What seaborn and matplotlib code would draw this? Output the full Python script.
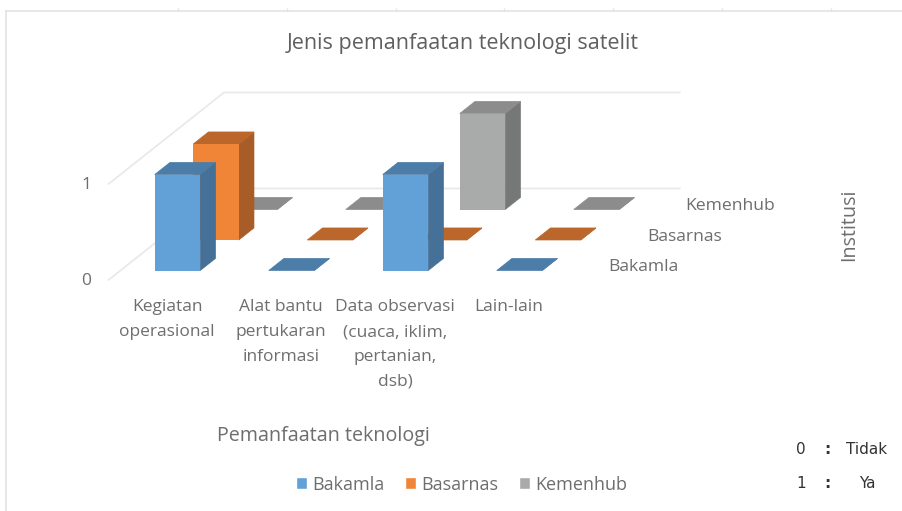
import numpy as np
import pandas as pd
import matplotlib
matplotlib.use("Agg")
import matplotlib.pyplot as plt
import seaborn as sns

# data
categories = ["Kegiatan operasional", "Alat bantu pertukaran informasi",
              "Data observasi (cuaca, iklim, pertanian, dsb)", "Lain-lain"]
cat_labels = ["Kegiatan\noperasional", "Alat bantu\npertukaran\ninformasi",
              "Data observasi\n(cuaca, iklim,\npertanian,\ndsb)", "Lain-lain"]
institusi = ["Bakamla", "Basarnas", "Kemenhub"]
bakamla = [1, 0, 1, 0]
basarnas = [1, 0, 0, 0]
kemenhub = [0, 0, 1, 0]
y_ticks = [0, 1]
colors = ["#62A0D8", "#F08437", "#A9ABAA"]

W, H = 902, 511
TXT = "#6e6e6e"

# pixel layout of the oblique box
CAT_PX = 114.0   # one category
VAL_PX = 96.0    # one value unit
X0_PX = 177.5    # centre of first category, front series
Y0_PX = 270.5    # value 0, front series
DX = 38.5 / CAT_PX   # shift per series, in category units
DY = 30.5 / VAL_PX   # shift per series, in value units
BAR_W = 45.5 / CAT_PX
BAR_D = 0.395    # bar depth as part of one series step


def project(x, y, z):
    return x + z * DX, y + z * DY


def px(x, y):
    return x / W, 1 - y / H


sns.set_theme(style="white")
plt.rcParams["font.family"] = ["Open Sans", "DejaVu Sans"]

df = pd.DataFrame({
    "Pemanfaatan": categories * 3,
    "Institusi": np.repeat(institusi, 4),
    "Nilai": bakamla + basarnas + kemenhub,
})

fig = plt.figure(figsize=(W / 100, H / 100), dpi=100, facecolor="white")

# chart frame with the small handle ticks
frame = fig.add_axes([6 / W, 0, 1 - 6 / W, 1 - 11 / H], facecolor="none")
frame.set_xlim(6, W)
frame.set_ylim(H, 11)
for side in ["right", "bottom"]:
    frame.spines[side].set_visible(False)
for side in ["left", "top"]:
    frame.spines[side].set_color("#e3e3e3")
    frame.spines[side].set_linewidth(1.2)
frame.xaxis.tick_top()
frame.set_xticks([178, 287, 396, 504, 613, 722, 831])
frame.set_yticks([47, 83, 139, 224, 259, 294, 330, 365, 400, 435, 470, 506])
frame.tick_params(length=2, width=1, color="#e3e3e3", labelleft=False, labeltop=False)

ax = fig.add_axes([0, 0, 1, 1], facecolor="none")
palette = dict(zip(institusi, colors))
sns.barplot(data=df, x="Pemanfaatan", y="Nilai", hue="Institusi", order=categories,
            hue_order=institusi, palette=palette, dodge=False, width=BAR_W,
            saturation=1, errorbar=None, ax=ax)

ax.set_xlim(-X0_PX / CAT_PX, (W - X0_PX) / CAT_PX)
ax.set_ylim(-(H - Y0_PX) / VAL_PX, Y0_PX / VAL_PX)

# walls and floor
z_front, z_back = -0.31, 2.69
x_left, x_right = -0.5, 3.5
for v in y_ticks:
    xs, ys = zip(project(x_left, v, z_front), project(x_left, v, z_back), project(x_right, v, z_back))
    ax.plot(xs, ys, color="#e8e8e8", lw=1.2, zorder=1)

# bars, back series first
for s, (name, cont) in enumerate(zip(institusi, ax.containers)):
    col = np.array(matplotlib.colors.to_rgb(colors[s]))
    z = 3 + (2 - s) * 3
    for bar in cont:
        x, w, h = bar.get_x(), bar.get_width(), bar.get_height()
        bar.set_x(x + s * DX)
        bar.set_y(s * DY)
        bar.set_zorder(z + 2)
        bar.set_linewidth(0)
        # side face (thin edge in the same colour closes the seam to the front)
        side = [project(x + w, 0, s), project(x + w, 0, s + BAR_D),
                project(x + w, h, s + BAR_D), project(x + w, h, s)]
        c_side = col * 0.7
        ax.fill(*zip(*side), fc=c_side, ec=c_side, lw=0.5, zorder=z)
        # top face
        top = [project(x, h, s), project(x + w, h, s),
               project(x + w, h, s + BAR_D), project(x, h, s + BAR_D)]
        c_top = col * (0.82 if s == 2 else 0.78)
        ax.fill(*zip(*top), fc=c_top, ec=c_top, lw=0.5, zorder=z + 1)

ax.axis("off")

sns.move_legend(ax, "center", bbox_to_anchor=px(461.5, 484.5), bbox_transform=fig.transFigure,
                ncol=3, frameon=False, title=None, fontsize=13, labelcolor=TXT,
                handlelength=0.6, handleheight=0.65, handletextpad=0.3, columnspacing=1.15)

# axis texts
for v in y_ticks:
    ax.text(-0.8, v - 0.11, str(v), ha="center", va="center", fontsize=12.5, color=TXT)
for i, lab in enumerate(cat_labels):
    ax.text(i - 0.092, -0.3, lab, ha="center", va="top", fontsize=12.5, color=TXT, linespacing=1.74)
for s, name in enumerate(institusi):
    x, y = project(3.78, 0, s)
    ax.text(x, y + 0.035, name, ha="left", va="center", fontsize=12.6, color=TXT)

fig.text(*px(463, 43), "Jenis pemanfaatan teknologi satelit", ha="center", va="center",
         fontsize=15.5, color="#606060")
fig.text(*px(323, 436), "Pemanfaatan teknologi", ha="center", va="center", fontsize=14.2, color=TXT)
fig.text(*px(849, 225), "Institusi", ha="center", va="center", rotation=90, fontsize=14.2, color=TXT)

# note on the codes
for row_y, code, word in [(449, "0", "Tidak"), (484, "1", "Ya")]:
    fig.text(*px(801, row_y), code, ha="center", va="center", fontsize=11, color="#333333", family="DejaVu Sans")
    fig.text(*px(827, row_y), ":", ha="center", va="center", fontsize=11, color="#333333", family="DejaVu Sans", fontweight="bold")
    fig.text(*px(867, row_y), word, ha="center", va="center", fontsize=11, color="#333333", family="DejaVu Sans")

fig.savefig("out.png", dpi=100)
